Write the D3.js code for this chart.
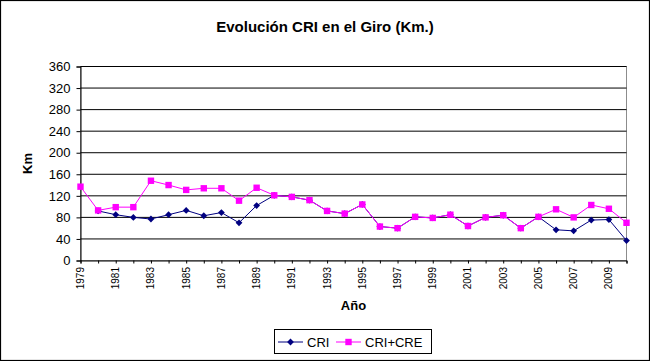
<!DOCTYPE html>
<html>
<head>
    <script src="https://cdnjs.cloudflare.com/ajax/libs/d3/7.8.5/d3.min.js"></script>
</head>

<style>
body {
    margin: 0;
    background: #fff;
}

text {
    font-family: "Liberation Sans", Arial, sans-serif;
    fill: #000;
}
</style>

<body>
    <svg id="canvas"></svg>

<script>

const years = d3.range(1979, 2011),
	yTicks = [0, 40, 80, 120, 160, 200, 240, 280, 320, 360],
	xTickLabels = years.filter(y => (y - 1979) % 2 === 0);

// CRI starts in 1980
const cri = [null, 92, 85, 80, 77, 85, 93, 83, 89, 70, 102, 121, 118, 112, 92, 87,
	104, 63, 60, 81, 79, 85, 64, 80, 84, 60, 81, 57, 55, 75, 76, 37];
const criCre = [137, 93, 99, 99, 148, 140, 131, 134, 134, 111, 135, 121, 118, 112, 92, 87,
	104, 63, 60, 81, 79, 85, 64, 80, 84, 60, 81, 95, 80, 103, 96, 70];

const width = 650, height = 361;

const svg = d3.select('svg#canvas')
	.attr('width', width)
	.attr('height', height);

svg.append('rect')
	.attr('x', 0.5).attr('y', 0.5)
	.attr('width', 649).attr('height', 360)
	.attr('fill', '#fff')
	.attr('stroke', '#000')
	.attr('stroke-width', 1.2);

const x = d3.scaleLinear().domain([1979, 2010]).range([80.5, 626.5]),
	y = d3.scaleLinear().domain([0, 360]).range([260.5, 66.5]);

// plot area border
svg.append('rect')
	.attr('x', x(1979)).attr('y', y(360))
	.attr('width', x(2010) - x(1979))
	.attr('height', y(0) - y(360))
	.attr('fill', 'none')
	.attr('stroke', '#8c8c8c')
	.attr('stroke-width', 1);

// gridlines
svg.append('g').selectAll('line')
	.data(yTicks.filter(d => d > 0))
	.enter().append('line')
	.attr('x1', x(1979)).attr('x2', x(2010))
	.attr('y1', d => y(d)).attr('y2', d => y(d))
	.attr('stroke', '#000')
	.attr('stroke-width', 1);

// y axis
const yAxis = svg.append('g')
	.attr('transform', `translate(${x(1979)},0)`)
	.call(d3.axisLeft(y).tickValues(yTicks).tickSize(4).tickPadding(6));
yAxis.select('.domain').attr('stroke', '#000');
yAxis.selectAll('.tick line').attr('stroke', '#000');
yAxis.selectAll('.tick text')
	.attr('font-size', 13)
	.attr('font-family', '"Liberation Sans", Arial, sans-serif');

// x axis
const xAxis = svg.append('g')
	.attr('transform', `translate(0,${y(0)})`)
	.call(d3.axisBottom(x).tickValues(years).tickSize(3).tickFormat(''));
xAxis.select('.domain').attr('stroke', '#000');
xAxis.selectAll('.tick line').attr('stroke', '#000');

svg.append('g').selectAll('text')
	.data(xTickLabels)
	.enter().append('text')
	.attr('transform', d => `translate(${x(d)},267) rotate(-90)`)
	.attr('text-anchor', 'end')
	.attr('dy', '0.35em')
	.attr('font-size', 10)
	.text(d => d);

// series
const line = d3.line()
	.defined(d => d.v != null)
	.x(d => x(d.year))
	.y(d => y(d.v));

const criData = years.map((year, i) => ({ year, v: cri[i] })),
	criCreData = years.map((year, i) => ({ year, v: criCre[i] }));

const diamond = 'M0,-3.4L3.4,0L0,3.4L-3.4,0Z',
	square = 'M-3.2,-3.2H3.2V3.2H-3.2Z';

function drawSeries(data, color, marker) {
	const g = svg.append('g');
	g.append('path')
		.datum(data)
		.attr('d', line)
		.attr('fill', 'none')
		.attr('stroke', color)
		.attr('stroke-width', 1);
	g.selectAll('path.mark')
		.data(data.filter(d => d.v != null))
		.enter().append('path')
		.classed('mark', true)
		.attr('d', marker)
		.attr('transform', d => `translate(${x(d.year)},${y(d.v)})`)
		.attr('fill', color);
}

drawSeries(criData, '#000080', diamond);
drawSeries(criCreData, '#ff00ff', square);

// titles
svg.append('text')
	.attr('x', 325).attr('y', 32)
	.attr('text-anchor', 'middle')
	.attr('font-size', 15)
	.attr('font-weight', 'bold')
	.text('Evolución CRI en el Giro (Km.)');

svg.append('text')
	.attr('x', (x(1979) + x(2010)) / 2).attr('y', 310)
	.attr('text-anchor', 'middle')
	.attr('font-size', 13)
	.attr('font-weight', 'bold')
	.text('Año');

svg.append('text')
	.attr('transform', `translate(32,${(y(0) + y(360)) / 2}) rotate(-90)`)
	.attr('text-anchor', 'middle')
	.attr('font-size', 13)
	.attr('font-weight', 'bold')
	.text('Km');

// legend
const legend = svg.append('g');
legend.append('rect')
	.attr('x', 274.5).attr('y', 329.5)
	.attr('width', 157).attr('height', 24)
	.attr('fill', '#fff')
	.attr('stroke', '#000')
	.attr('stroke-width', 1);

const legendItems = [
	{ name: 'CRI', color: '#000080', marker: diamond, x: 278 },
	{ name: 'CRI+CRE', color: '#ff00ff', marker: square, x: 336 }
];

legendItems.forEach(d => {
	legend.append('line')
		.attr('x1', d.x).attr('x2', d.x + 25)
		.attr('y1', 342).attr('y2', 342)
		.attr('stroke', d.color)
		.attr('stroke-width', 1);
	legend.append('path')
		.attr('d', d.marker)
		.attr('transform', `translate(${d.x + 12.5},342)`)
		.attr('fill', d.color);
	legend.append('text')
		.attr('x', d.x + 29).attr('y', 342)
		.attr('dy', '0.35em')
		.attr('font-size', 13)
		.text(d.name);
});
</script>
</body>
</html>
